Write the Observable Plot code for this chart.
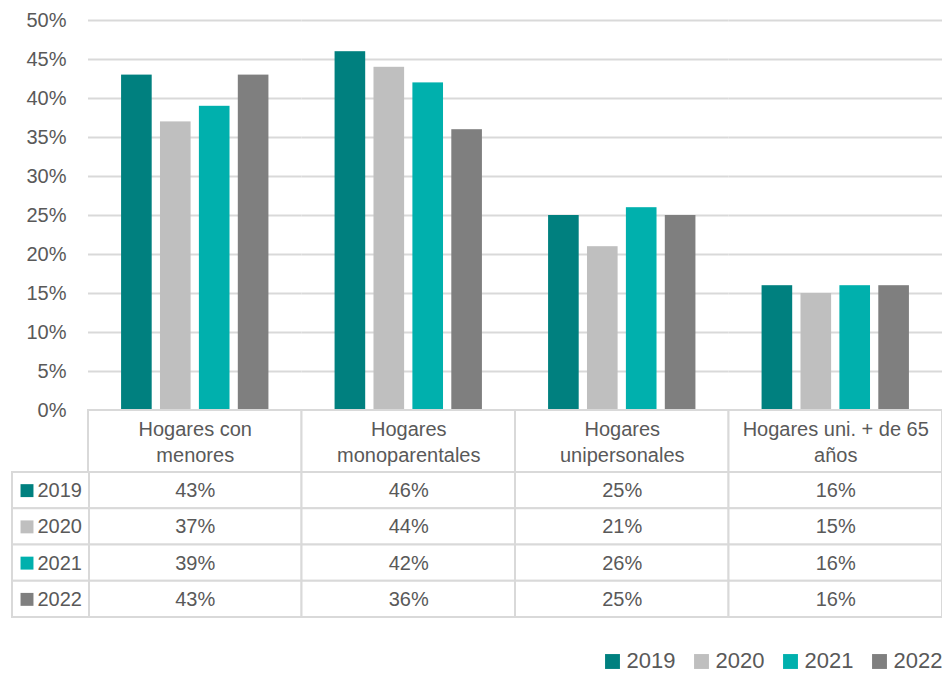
<!DOCTYPE html>
<html>
<head>
<meta charset="utf-8">
<script src="https://cdn.jsdelivr.net/npm/d3@7"></script>
<script src="https://cdn.jsdelivr.net/npm/@observablehq/plot@0.6"></script>
<style>
  html, body { margin: 0; padding: 0; background: #fff; }
  #root { position: relative; width: 942px; height: 674px; background: #fff; }
  #root > div { position: absolute; }
  svg { overflow: visible; }
</style>
</head>
<body>
<div id="root">
  <div id="chart" style="left:0;top:0"></div>
  <div id="header" style="left:87px;top:409px"></div>
  <div id="rows" style="left:87px;top:471px"></div>
  <div id="labels" style="left:11px;top:471px"></div>
  <div id="legend" style="left:0;top:644px"></div>
</div>
<script>
const categories = ["Hogares con menores", "Hogares monoparentales", "Hogares unipersonales", "Hogares uni. + de 65 años"];
const headerLabels = ["Hogares con\nmenores", "Hogares\nmonoparentales", "Hogares\nunipersonales", "Hogares uni. + de 65\naños"];
const years = ["2019", "2020", "2021", "2022"];
const v2019 = [43, 46, 25, 16];
const v2020 = [37, 44, 21, 15];
const v2021 = [39, 42, 26, 16];
const v2022 = [43, 36, 25, 16];
const yearColors = ["#00807F", "#BFBFBF", "#00B0AD", "#7F7F7F"];
const yTicks = [0, 5, 10, 15, 20, 25, 30, 35, 40, 45, 50];

const seriesByYear = {"2019": v2019, "2020": v2020, "2021": v2021, "2022": v2022};
const data = [];
for (const y of years) categories.forEach((c, i) => data.push({category: c, year: y, value: seriesByYear[y][i]}));

const FONT = "'Liberation Sans', Arial, sans-serif";
const TXT = "#595959";
const LINE = "#D9D9D9";
const pct = d => d + "%";

const chart = Plot.plot({
  width: 942, height: 420,
  marginTop: 20, marginBottom: 10, marginLeft: 88, marginRight: 0,
  style: {fontFamily: FONT, fontSize: "20px", color: TXT, background: "transparent"},
  fx: {domain: categories, padding: 0, round: false, axis: null, label: null},
  x: {domain: years, paddingInner: 0.213, paddingOuter: 0.85, round: false, axis: null},
  y: {domain: [0, 50], ticks: yTicks, tickFormat: pct, tickSize: 0, tickPadding: 22, label: null},
  color: {domain: years, range: yearColors},
  marks: [
    Plot.ruleY(yTicks, {stroke: LINE, strokeWidth: 2}),
    Plot.barY(data, {fx: "category", x: "year", y: "value", fill: "year"})
  ]
});
document.getElementById("chart").append(chart);

const header = Plot.plot({
  width: 855, height: 64,
  marginTop: 1, marginBottom: 1, marginLeft: 1, marginRight: 0,
  style: {fontFamily: FONT, background: "transparent"},
  x: {domain: categories, padding: 0, round: false, axis: null},
  marks: [
    Plot.cell(categories, {x: d => d, fill: "white", stroke: LINE, strokeWidth: 2, inset: 0}),
    Plot.text(categories, {x: d => d, text: (d, i) => headerLabels[i], fontSize: 20, fill: TXT, lineHeight: 1.33, frameAnchor: "middle", dy: -1})
  ]
});
document.getElementById("header").append(header);

const rows = Plot.plot({
  width: 855, height: 147,
  marginTop: 1, marginBottom: 1, marginLeft: 1, marginRight: 0,
  style: {fontFamily: FONT, background: "transparent"},
  x: {domain: categories, padding: 0, round: false, axis: null},
  y: {domain: years, padding: 0, round: false, axis: null},
  marks: [
    Plot.cell(data, {x: "category", y: "year", fill: "white", stroke: LINE, strokeWidth: 2, inset: 0}),
    Plot.text(data, {x: "category", y: "year", text: d => pct(d.value), fontSize: 20, fill: TXT})
  ]
});
document.getElementById("rows").append(rows);

const labels = Plot.plot({
  width: 78, height: 147,
  marginTop: 1, marginBottom: 1, marginLeft: 1, marginRight: 0,
  style: {fontFamily: FONT, background: "transparent"},
  y: {domain: years, padding: 0, round: false, axis: null},
  color: {domain: years, range: yearColors},
  marks: [
    Plot.cell(years, {y: d => d, fill: "white", stroke: LINE, strokeWidth: 2, inset: 0}),
    Plot.dot(years, {y: d => d, frameAnchor: "left", dx: 14.5, symbol: "square", r: 7.3, fill: d => d, stroke: "none"}),
    Plot.text(years, {y: d => d, frameAnchor: "left", dx: 25, textAnchor: "start", fontSize: 20, fill: TXT})
  ]
});
document.getElementById("labels").append(labels);

const legend = Plot.plot({
  width: 942, height: 30,
  marginTop: 0, marginBottom: 0, marginLeft: 612, marginRight: 63,
  style: {fontFamily: FONT, background: "transparent"},
  x: {type: "point", domain: years, padding: 0, round: false, axis: null},
  color: {domain: years, range: yearColors},
  marks: [
    Plot.dot(years, {x: d => d, frameAnchor: "middle", dy: 2, symbol: "square", r: 8.4, fill: d => d, stroke: "none"}),
    Plot.text(years, {x: d => d, frameAnchor: "middle", dx: 14, dy: 1, textAnchor: "start", fontSize: 22, fill: TXT})
  ]
});
document.getElementById("legend").append(legend);
</script>
</body>
</html>
